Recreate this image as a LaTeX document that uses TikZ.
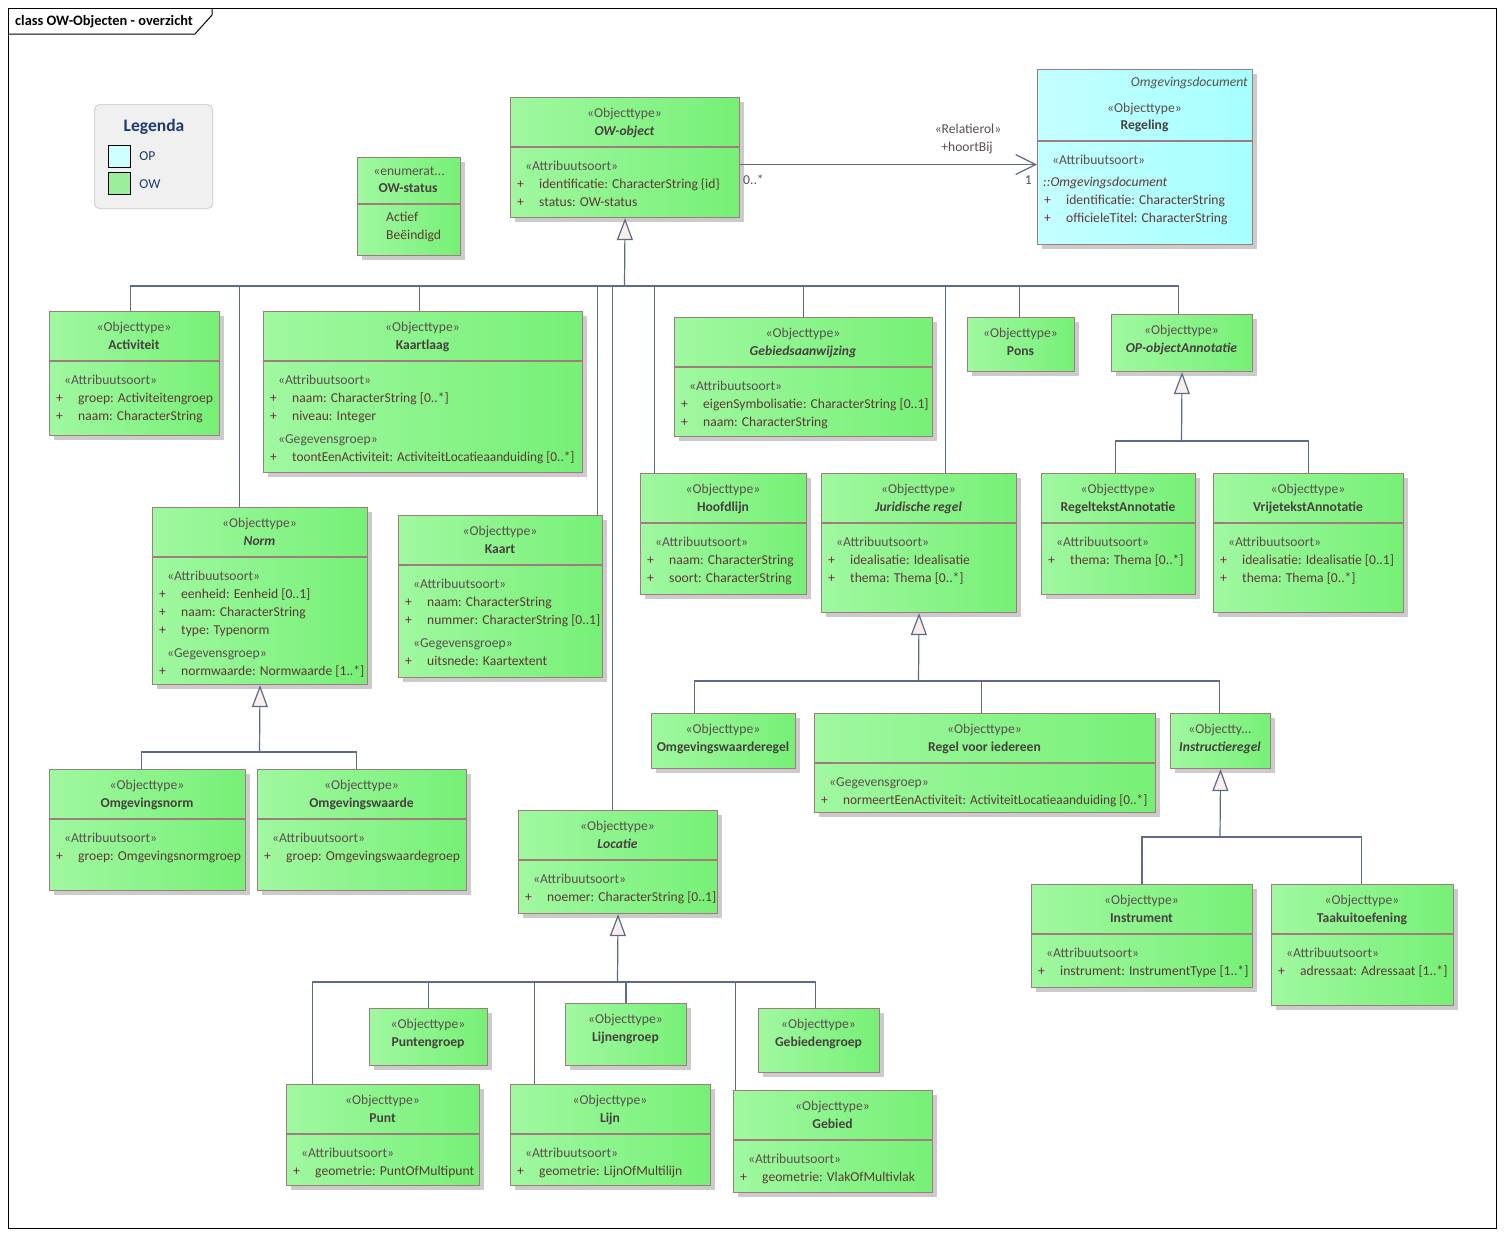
\documentclass[tikz,border=0pt]{standalone}
\usepackage{fontspec}
\setmainfont{Carlito}
\usepackage{xcolor}
\usepackage{tikz}
\usetikzlibrary{arrows.meta,positioning}
\definecolor{owgroenL}{HTML}{A0F8A0}
\definecolor{owgroenR}{HTML}{76F076}
\definecolor{opcyaanL}{HTML}{C4FFFF}
\definecolor{opcyaanR}{HTML}{A6FFFF}
\definecolor{klasrand}{HTML}{A07C7C}
\definecolor{schaduw}{HTML}{CBCBCB}
\definecolor{lijnkleur}{HTML}{5E6A8A}
\definecolor{pijlvul}{HTML}{F8EEEA}
\definecolor{sterkleur}{HTML}{5A4F4F}
\definecolor{naamkleur}{HTML}{484040}
\definecolor{attrkleur}{HTML}{5E3838}
\definecolor{pluskleur}{HTML}{7A2248}
\definecolor{legendagrijs}{HTML}{F0F0F0}
\definecolor{legendarand}{HTML}{D6D6D6}
\definecolor{legendablauw}{HTML}{1F3A6B}
\definecolor{opvak}{HTML}{CCFFFF}
\definecolor{owvak}{HTML}{9CEE9C}

\newcommand{\objtype}{«Objecttype»}
\newcommand{\ster}[1]{\strut\hspace*{9pt}\textcolor{sterkleur}{«#1»}}
\newcommand{\plus}{\makebox[23pt][l]{\hspace*{1pt}\textcolor{pluskleur}{+}}}
\newcommand{\smal}[1]{\scalebox{0.975}[1]{#1}}
% klasse: naam, x1, y1, x2, y2, stereotype, titel, attributen
\newcommand{\klasse}[8]{%
  \fill[schaduw] (#2+5,#3+5) rectangle (#4+5,#5+5);
  \node[klasvak, minimum width=#4-#2, minimum height=#5-#3, anchor=north west] (#1) at (#2,#3) {};
  \node[stereo] (#1-st) at ({(#2+#4)/2},#3+20) {#6};
  \node[klasnaam] (#1-nm) at ({(#2+#4)/2},#3+38) {#7};
  \if\relax\detokenize{#8}\relax\else
    \draw[deler] (#2,#3+50) -- (#4,#3+50);
    \node[attrblok] (#1-at) at (#2+6,#3+60.4) {#8};
  \fi}

\begin{document}
\begin{tikzpicture}[x=1pt, y=-1pt,
  klasvak/.style={rectangle, draw=klasrand, line width=1.1pt, left color=owgroenL, right color=owgroenR, inner sep=0pt},
  deler/.style={draw=klasrand, line width=1.1pt},
  stereo/.style={anchor=base, inner sep=0pt, text=sterkleur, font=\fontsize{13.6}{18}\selectfont},
  klasnaam/.style={anchor=base, inner sep=0pt, text=naamkleur, font=\fontsize{13.6}{18}\selectfont\bfseries},
  attrblok/.style={anchor=north west, inner sep=0pt, align=left, text=attrkleur, font=\fontsize{13.6}{18}\selectfont},
  verbinding/.style={draw=lijnkleur, line width=1.2pt},
  generalisatie/.style={verbinding, -{Triangle[length=22pt,width=16pt,fill=pijlvul]}},
  associatie/.style={verbinding, -{Straight Barb[length=20pt,width=20pt]}},
  rollabel/.style={inner sep=0pt, text=sterkleur, font=\fontsize{13.6}{18}\selectfont},
  kader/.style={draw=black, line width=1pt},
  legendakader/.style={rectangle, draw=legendarand, fill=legendagrijs, rounded corners=5pt, line width=1.2pt, inner sep=0pt},
  legendavak/.style={rectangle, draw=black, line width=1.2pt, minimum size=22pt, inner sep=0pt},
  legendatekst/.style={inner sep=0pt, text=legendablauw, font=\fontsize{13.6}{18}\selectfont}]
  \useasboundingbox (0,0) rectangle (1504,1235);
  \fill[white] (0,0) rectangle (1504,1235);
  % kader en titel
  \draw[kader] (8,8) rectangle (1496,1228);
  \draw[kader] (8,34) -- (195,34) -- (212,15) -- (212,8);
  \node[anchor=base west, inner sep=0pt, font=\fontsize{14.4}{18}\selectfont\bfseries] (diagramtitel) at (15,25) {class OW-Objecten - overzicht};
  % legenda
  \node[legendakader, minimum width=118, minimum height=104, anchor=north west] (legenda) at (94,104) {};
  \node[anchor=base, inner sep=0pt, text=legendablauw, font=\fontsize{17.5}{20}\selectfont\bfseries] (legenda-titel) at (154,131) {Legenda};
  \node[legendavak, fill=opvak, anchor=north west] (vak-op) at (108,145) {};
  \node[legendatekst, right=8pt of vak-op] (tekst-op) {OP};
  \node[legendavak, fill=owvak, below=4pt of vak-op] (vak-ow) {};
  \node[legendatekst, right=8pt of vak-ow] (tekst-ow) {OW};
  % OW-status
  \fill[schaduw] (362,162) rectangle (465,260);
  \node[klasvak, minimum width=103, minimum height=98, anchor=north west] (owstatus) at (357,157) {};
  \node[stereo] (owstatus-st) at (409,175) {«enumerat...};
  \node[klasnaam] (owstatus-nm) at (408,192) {OW-status};
  \draw[deler] (357,204) -- (460,204);
  \node[attrblok] (owstatus-at) at (386,208.4) {\strut Actief\\Beëindigd};
  % Regeling (OP)
  \fill[schaduw] (1042,74) rectangle (1257,249);
  \node[klasvak, left color=opcyaanL, right color=opcyaanR, minimum width=215, minimum height=175, anchor=north west] (regeling) at (1037,69) {};
  \node[rollabel, anchor=base east] (regeling-pk) at (1248,86) {\textit{Omgevingsdocument}};
  \node[stereo] (regeling-st) at (1144.5,112) {\objtype};
  \node[klasnaam] (regeling-nm) at (1144.5,129) {Regeling};
  \draw[deler] (1037,141) -- (1252,141);
  \node[attrblok] (regeling-at) at (1043,152) {\ster{Attribuutsoort}\\[4pt]\textit{::Omgevingsdocument}\\\plus identificatie: CharacterString\\\plus officieleTitel: CharacterString};
  % OW-klassen
  \klasse{owobject}{510}{97}{739}{217}{\objtype}{\textit{OW-object}}{\ster{Attribuutsoort}\\\plus identificatie: CharacterString \{id\}\\\plus status: OW-status}
  \klasse{activiteit}{49}{311}{219}{435}{\objtype}{Activiteit}{\ster{Attribuutsoort}\\\plus groep: Activiteitengroep\\\plus naam: CharacterString}
  \klasse{kaartlaag}{263}{311}{582}{472}{\objtype}{Kaartlaag}{\ster{Attribuutsoort}\\\plus naam: CharacterString [0..*]\\\plus niveau: Integer\\[5pt]\ster{Gegevensgroep}\\\plus \smal{toontEenActiviteit: ActiviteitLocatieaanduiding [0..*]}}
  \klasse{gebiedsaanwijzing}{674}{317}{932}{436}{\objtype}{\textit{Gebiedsaanwijzing}}{\ster{Attribuutsoort}\\\plus eigenSymbolisatie: CharacterString [0..1]\\\plus naam: CharacterString}
  \klasse{pons}{967}{317}{1074}{371}{\objtype}{Pons}{}
  \klasse{opannotatie}{1111}{314}{1252}{371}{\objtype}{\textit{OP-objectAnnotatie}}{}
  \klasse{hoofdlijn}{640}{473}{806}{594}{\objtype}{Hoofdlijn}{\ster{Attribuutsoort}\\\plus naam: CharacterString\\\plus soort: CharacterString}
  \klasse{jurregel}{821}{473}{1016}{612}{\objtype}{\textit{Juridische regel}}{\ster{Attribuutsoort}\\\plus idealisatie: Idealisatie\\\plus thema: Thema [0..*]}
  \klasse{regeltekst}{1041}{473}{1195}{594}{\objtype}{RegeltekstAnnotatie}{\ster{Attribuutsoort}\\\plus thema: Thema [0..*]}
  \klasse{vrijetekst}{1213}{473}{1403}{612}{\objtype}{VrijetekstAnnotatie}{\ster{Attribuutsoort}\\\plus idealisatie: Idealisatie [0..1]\\\plus thema: Thema [0..*]}
  \klasse{norm}{152}{507}{367}{684}{\objtype}{\textit{Norm}}{\ster{Attribuutsoort}\\\plus eenheid: Eenheid [0..1]\\\plus naam: CharacterString\\\plus type: Typenorm\\[5pt]\ster{Gegevensgroep}\\\plus normwaarde: Normwaarde [1..*]}
  \klasse{kaart}{398}{515}{602}{677}{\objtype}{Kaart}{\ster{Attribuutsoort}\\\plus naam: CharacterString\\\plus nummer: CharacterString [0..1]\\[5pt]\ster{Gegevensgroep}\\\plus uitsnede: Kaartextent}
  \klasse{omgevingsnorm}{49}{769}{245}{890}{\objtype}{Omgevingsnorm}{\ster{Attribuutsoort}\\\plus groep: Omgevingsnormgroep}
  \klasse{omgevingswaarde}{257}{769}{466}{890}{\objtype}{Omgevingswaarde}{\ster{Attribuutsoort}\\\plus groep: Omgevingswaardegroep}
  \klasse{owregel}{651}{713}{795}{768}{\objtype}{Omgevingswaarderegel}{}
  \klasse{regeliedereen}{814}{713}{1155}{812}{\objtype}{Regel voor iedereen}{\ster{Gegevensgroep}\\\plus \smal{normeertEenActiviteit: ActiviteitLocatieaanduiding [0..*]}}
  \klasse{instructieregel}{1170}{713}{1270}{768}{«Objectty...}{\textit{Instructieregel}}{}
  \klasse{instrument}{1031}{884}{1252}{987}{\objtype}{Instrument}{\ster{Attribuutsoort}\\\plus instrument: InstrumentType [1..*]}
  \klasse{taakuitoefening}{1271}{884}{1453}{1005}{\objtype}{Taakuitoefening}{\ster{Attribuutsoort}\\\plus adressaat: Adressaat [1..*]}
  \klasse{locatie}{518}{810}{717}{913}{\objtype}{\textit{Locatie}}{\ster{Attribuutsoort}\\\plus noemer: CharacterString [0..1]}
  \klasse{puntengroep}{369}{1008}{487}{1065}{\objtype}{Puntengroep}{}
  \klasse{lijnengroep}{565}{1003}{686}{1065}{\objtype}{Lijnengroep}{}
  \klasse{gebiedengroep}{758}{1008}{879}{1072}{\objtype}{Gebiedengroep}{}
  \klasse{punt}{286}{1084}{479}{1185}{\objtype}{Punt}{\ster{Attribuutsoort}\\\plus geometrie: PuntOfMultipunt}
  \klasse{lijnklasse}{510}{1084}{710}{1185}{\objtype}{Lijn}{\ster{Attribuutsoort}\\\plus geometrie: LijnOfMultilijn}
  \klasse{gebied}{733}{1090}{932}{1192}{\objtype}{Gebied}{\ster{Attribuutsoort}\\\plus geometrie: VlakOfMultivlak}
  % associatie hoortBij
  \draw[associatie] ([yshift=-7pt]owobject.east) -- ([yshift=-7.5pt]regeling.west);
  \node[rollabel, anchor=base] (rol-st) at (968,133) {«Relatierol»};
  \node[rollabel, anchor=base] (rol-nm) at (967,151) {+hoortBij};
  \node[rollabel, anchor=base west] (mult-bron) at (743,184) {0..*};
  \node[rollabel, anchor=base east] (mult-doel) at (1032,184) {1};
  % generalisaties OW-object
  \coordinate (owbus) at (624.5,286);
  \draw[generalisatie] (owbus) -- (owobject.south);
  \draw[verbinding] ([xshift=-4pt]activiteit.north) |- (owbus);
  \draw[verbinding] ([xshift=-3.5pt]kaartlaag.north) |- (owbus);
  \draw[verbinding] ([xshift=-20.5pt]norm.north) |- (owbus);
  \draw[verbinding] ([xshift=97pt]kaart.north) |- (owbus);
  \draw[verbinding] ([xshift=-5.5pt]locatie.north) |- (owbus);
  \draw[verbinding] ([xshift=-69pt]hoofdlijn.north) |- (owbus);
  \draw[verbinding] (gebiedsaanwijzing.north) |- (owbus);
  \draw[verbinding] ([xshift=26.5pt]jurregel.north) |- (owbus);
  \draw[verbinding] ([xshift=-1.5pt]pons.north) |- (owbus);
  \draw[verbinding] ([xshift=-3.5pt]opannotatie.north) |- (owbus);
  % OP-objectAnnotatie
  \coordinate (opbus) at (1181.5,441);
  \draw[generalisatie] (opbus) -- (opannotatie.south);
  \draw[verbinding] ([xshift=-3pt]regeltekst.north) |- (opbus);
  \draw[verbinding] (vrijetekst.north) |- (opbus);
  % Juridische regel
  \coordinate (jrbus) at (918.5,681);
  \draw[generalisatie] (jrbus) -- (jurregel.south);
  \draw[verbinding] ([xshift=-29pt]owregel.north) |- (jrbus);
  \draw[verbinding] ([xshift=-3.5pt]regeliedereen.north) |- (jrbus);
  \draw[verbinding] ([xshift=-1pt]instructieregel.north) |- (jrbus);
  % Norm
  \coordinate (normbus) at (259.5,752);
  \draw[generalisatie] (normbus) -- (norm.south);
  \draw[verbinding] ([xshift=-6pt]omgevingsnorm.north) |- (normbus);
  \draw[verbinding] ([xshift=-5.5pt]omgevingswaarde.north) |- (normbus);
  % Instructieregel
  \coordinate (irbus) at (1220,837);
  \draw[generalisatie] (irbus) -- (instructieregel.south);
  \draw[verbinding] (instrument.north) |- (irbus);
  \draw[verbinding] ([xshift=-1pt]taakuitoefening.north) |- (irbus);
  % Locatie
  \coordinate (locbus) at (617.5,982);
  \draw[generalisatie] (locbus) -- (locatie.south);
  \draw[verbinding] ([xshift=-70.5pt]punt.north) |- (locbus);
  \draw[verbinding] (puntengroep.north) |- (locbus);
  \draw[verbinding] ([xshift=-76pt]lijnklasse.north) |- (locbus);
  \draw[verbinding] (lijnengroep.north) |- (locbus);
  \draw[verbinding] ([xshift=-97.5pt]gebied.north) |- (locbus);
  \draw[verbinding] ([xshift=-3.5pt]gebiedengroep.north) |- (locbus);
\end{tikzpicture}
\end{document}
